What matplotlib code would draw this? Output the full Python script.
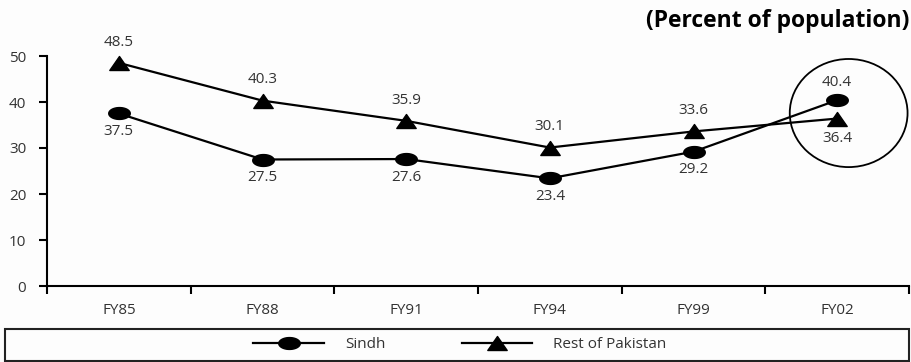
import numpy as np
import matplotlib
matplotlib.use("Agg")
import matplotlib.pyplot as plt
from matplotlib.path import Path
from matplotlib.patches import Ellipse, Rectangle

# data
years = ["FY85", "FY88", "FY91", "FY94", "FY99", "FY02"]
sindh = [37.5, 27.5, 27.6, 23.4, 29.2, 40.4]
rest_of_pakistan = [48.5, 40.3, 35.9, 30.1, 33.6, 36.4]

plt.rcParams["font.family"] = ["Open Sans", "DejaVu Sans"]

bg = "#fdfdfd"
txt = "#333333"

# squashed ellipse and flat triangle markers like the original
theta = np.linspace(0, 2 * np.pi, 60)
ell_marker = Path(np.column_stack([np.cos(theta), 0.55 * np.sin(theta)]), closed=True)
tri_marker = Path([[0, 0.72], [-1, -0.72], [1, -0.72], [0, 0.72]], closed=True)

fig = plt.figure(figsize=(9.11, 3.62), dpi=100, facecolor=bg)
ax = fig.add_axes([47 / 911, 76 / 362, 862 / 911, 230 / 362], facecolor=bg)

x = np.arange(len(years))
ax.plot(x, sindh, color="black", lw=1.6, marker=ell_marker, ms=15.5,
        mfc="black", mec="black", clip_on=False, zorder=3, label="Sindh")
ax.plot(x, rest_of_pakistan, color="black", lw=1.6, marker=tri_marker, ms=14,
        mfc="black", mec="black", clip_on=False, zorder=3, label="Rest of Pakistan")

# value labels: Sindh below, Rest above, swapped for the last year
for i in range(len(years)):
    last = i == len(years) - 1
    ax.annotate(f"{sindh[i]:.1f}", (x[i], sindh[i]), textcoords="offset points",
                xytext=(0, 13 if last else -13), ha="center", va="center",
                fontsize=11, color=txt, annotation_clip=False)
    ax.annotate(f"{rest_of_pakistan[i]:.1f}", (x[i], rest_of_pakistan[i]),
                textcoords="offset points", xytext=(0, -14 if last else 15),
                ha="center", va="center", fontsize=11, color=txt,
                annotation_clip=False)

# circle around the last year
cy = (sindh[-1] + rest_of_pakistan[-1]) / 2
ax.add_patch(Ellipse((x[-1] + 0.08, cy - 0.8), 0.82, 23.5, fill=False,
                     ec="black", lw=1.3, clip_on=False, zorder=2))

ax.set_xlim(-0.5, len(years) - 0.5)
ax.set_ylim(0, 50)
ax.set_yticks(range(0, 51, 10))
ax.set_xticks(np.arange(-0.5, len(years), 1.0))
ax.set_xticklabels([])
ax.set_xticks(x, minor=True)
ax.set_xticklabels(years, minor=True)

ax.tick_params(axis="y", direction="out", length=6, width=1.5, pad=9,
               labelsize=11, labelcolor=txt)
ax.tick_params(axis="x", which="major", direction="out", length=6, width=1.5)
ax.tick_params(axis="x", which="minor", length=0, pad=12, labelsize=11,
               labelcolor=txt)

for s in ["top", "right"]:
    ax.spines[s].set_visible(False)
for s in ["left", "bottom"]:
    ax.spines[s].set_linewidth(1.5)

fig.text(909 / 911, 1 - 21 / 362, "(Percent of population)", ha="right",
         va="center", fontsize=16.5, fontweight="bold", color="black")

# legend strip
fig.patches.append(Rectangle((5 / 911, 1 / 362), 904 / 911, 32 / 362,
                             transform=fig.transFigure, fill=False,
                             ec="#222222", lw=1.5))
fig.legend(loc="center", bbox_to_anchor=(0.505, 17 / 362), ncol=2,
           frameon=False, fontsize=11, handlelength=4.6, handletextpad=1.4,
           columnspacing=5.0, labelcolor=txt)

fig.savefig("out.png", dpi=100, facecolor=bg)
